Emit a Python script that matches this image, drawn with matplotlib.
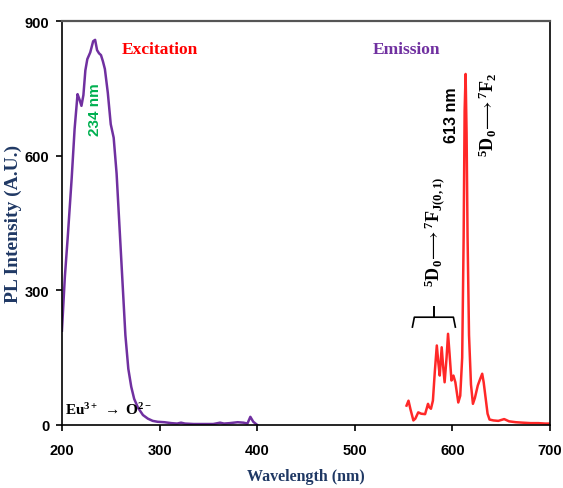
import matplotlib.pyplot as plt

# excitation spectrum (lambda_em = 613 nm)
exc_wl = [200, 203, 206, 210, 213, 216, 218, 220, 222, 224, 226, 229, 232, 234, 236, 238, 240,
          242, 244, 247, 250, 253, 256, 259, 262, 265, 268, 271, 274, 278, 283, 288, 293, 298,
          305, 312, 318, 322, 326, 335, 345, 355, 362, 366, 372, 380, 386, 390, 393, 396, 400]
exc_int = [210, 330, 420, 550, 660, 737, 725, 711, 735, 790, 815, 830, 855, 858, 835, 828, 824,
           810, 793, 740, 670, 640, 560, 440, 320, 200, 125, 85, 58, 38, 22, 14, 9, 7,
           6, 4, 3, 5, 3, 2, 2, 2, 5, 3, 4, 6, 5, 3, 18, 7, 0]

# emission spectrum (lambda_ex = 234 nm)
em_wl = [553, 555, 557, 560, 562, 565, 568, 572, 575, 576, 578, 580, 582, 584, 585.5, 587, 589,
         590.5, 592, 594, 595.5, 597, 599, 601, 603, 606, 608, 610, 611.5, 612.5, 613.5, 614.5,
         615.5, 617, 619, 621, 623, 626, 628, 630.5, 632, 634, 636, 638, 642, 647, 653, 658, 665,
         672, 680, 688, 695, 700]
em_int = [43, 54, 35, 10, 14, 28, 25, 24, 47, 40, 36, 54, 120, 177, 140, 110, 173,
          130, 95, 150, 203, 160, 99, 110, 95, 50, 65, 150, 420, 700, 782, 650,
          420, 200, 90, 47, 60, 88, 100, 114, 95, 60, 25, 12, 10, 9, 13, 8, 6,
          5, 4, 4, 3, 3]

xticks = [200, 300, 400, 500, 600, 700]
yticks = [0, 300, 600, 900]

serif = 'Liberation Serif'
sans = 'Liberation Sans'

plt.rcParams['mathtext.fontset'] = 'custom'
plt.rcParams['mathtext.rm'] = 'Liberation Serif'
plt.rcParams['mathtext.bf'] = 'Liberation Serif:bold'
plt.rcParams['mathtext.it'] = 'Liberation Serif:italic'

fig = plt.figure(figsize=(5.63, 4.89), dpi=100)
ax = fig.add_axes([0.110, 0.129, 0.867, 0.826])

ax.plot(exc_wl, exc_int, color='#7030A0', lw=1.8)
ax.plot(em_wl, em_int, color='#FF2828', lw=1.8)

ax.set_xlim(200, 700)
ax.set_ylim(0, 900)
ax.set_xticks(xticks)
ax.set_yticks(yticks)
ax.tick_params(direction='out', length=4, width=1.2, labelsize=10.5)
ax.tick_params(axis='x', pad=9)
ax.tick_params(axis='y', pad=5)
for lab in ax.get_xticklabels() + ax.get_yticklabels():
    lab.set_fontfamily(sans)
    lab.set_fontweight('bold')

for side in ['left', 'bottom', 'right']:
    ax.spines[side].set_color('black')
    ax.spines[side].set_linewidth(1.2)
ax.spines['top'].set_color('#555555')
ax.spines['top'].set_linewidth(1.6)

ax.set_xlabel('Wavelength (nm)', fontfamily=serif, fontweight='bold', fontsize=11.5,
              color='#1F3864', labelpad=8)
ax.set_ylabel('PL Intensity (A.U.)', fontfamily=serif, fontweight='bold', fontsize=14,
              color='#1F3864', labelpad=2)

ax.text(300, 837, 'Excitation', color='red', fontfamily=serif, fontweight='bold',
        fontsize=12.5, ha='center', va='center')
ax.text(553, 837, 'Emission', color='#7030A0', fontfamily=serif, fontweight='bold',
        fontsize=12.5, ha='center', va='center')
ax.text(234, 705, '234 nm', color='#00B050', fontfamily=sans, fontweight='bold',
        fontsize=11, rotation=90, ha='center', va='center')
ax.text(599, 693, '613 nm', color='black', fontfamily=sans, fontweight='bold',
        fontsize=11.5, rotation=90, ha='center', va='center')
ax.text(636, 693, r'$^{\mathbf{5}}\mathbf{D_{0}}\!\longrightarrow{}^{\mathbf{7}}\mathbf{F_{2}}$',
        color='black', fontsize=13, rotation=90, ha='center', va='center')
ax.text(582, 432, r'$^{\mathbf{5}}\mathbf{D_{0}}\!\longrightarrow{}^{\mathbf{7}}\mathbf{F_{J(0,1)}}$',
        color='black', fontsize=13, rotation=90, ha='center', va='center')

# bracket over the 5D0-7F0,1 group
ax.plot([559, 561, 601, 603], [218, 240, 240, 218], color='black', lw=1.2)
ax.plot([581, 581], [240, 263], color='black', lw=1.4)

ax.text(203, 35, r'Eu$^{\mathbf{3+}}$ $\rightarrow$ O$^{\mathbf{2-}}$', color='black',
        fontfamily=serif, fontweight='bold', fontsize=11, ha='left', va='center')

fig.savefig('out.png', dpi=100)
